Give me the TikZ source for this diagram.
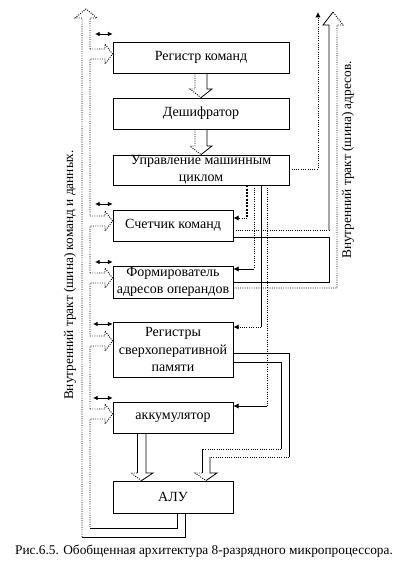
\documentclass[tikz,border=0pt]{standalone}
\usepackage{fontspec}
\setmainfont{Liberation Serif}
\newfontfamily\rfont{Liberation Serif}
\usetikzlibrary{arrows.meta}
\begin{document}
\begin{tikzpicture}[x=0.75pt,y=-0.75pt,
  box/.style={draw, line width=0.6pt, fill=white, inner sep=0pt, font=\rfont\fontsize{10.5}{13}\selectfont, align=center},
  sl/.style={line width=0.6pt},
  dl/.style={line width=0.7pt, densely dotted},
  dsh/.style={line width=0.8pt, dash pattern=on 1.5pt off 1pt},
  ctl/.style={-{Latex[length=4pt,width=4pt]}},
  bia/.style={line width=0.6pt, {Latex[length=3.5pt,width=3.5pt]}-{Latex[length=3.5pt,width=3.5pt]}},
  lbl/.style={font=\rfont\fontsize{10}{12}\selectfont}]
\useasboundingbox (0,0) rectangle (404,565);

% boxes
\node[box, minimum width=132pt, minimum height=23.25pt] (rk) at (201,57.5) {Регистр команд};
\node[box, minimum width=132pt, minimum height=23.25pt] (dsf) at (201,113.5) {Дешифратор};
\node[box, minimum width=132pt, minimum height=22.5pt] (upr) at (201,170) {Управление машинным\\циклом};
\node[box, minimum width=90pt, minimum height=23.25pt] (sch) at (173,225.5) {Счетчик команд};
\node[box, minimum width=90pt, minimum height=24pt] (frm) at (173,282) {Формирователь\\адресов операндов};
\node[box, minimum width=90pt, minimum height=41.25pt] (reg) at (173,349.5) {Регистры\\сверхоперативной\\памяти};
\node[box, minimum width=90pt, minimum height=23.25pt] (acc) at (173,417.5) {аккумулятор};
\node[box, minimum width=90pt, minimum height=24pt] (alu) at (173,497) {АЛУ};

% hollow arrows between top boxes
\draw[dl] (rk.south -| 195,0) -- (195,89) -- (190,89) -- (dsf.north);
\draw[sl] (rk.south -| 207,0) -- (207,89) -- (212,89) -- (dsf.north);
\draw[dl] (dsf.south -| 195,0) -- (195,146) -- (190,146) -- (upr.north);
\draw[sl] (dsf.south -| 207,0) -- (207,146) -- (212,146) -- (upr.north);

% left bus (commands and data)
\coordinate (bt) at (86,9);
\draw[dl] (82,537) -- (82,18) -- (75,18) -- (bt) -- (97,18) -- (90,18) -- (90,49);
\draw[sl] (82,537) -- (185,537) -- (alu.south -| 185,0);
\draw[sl] (90,528) -- (177,528) -- (alu.south -| 177,0);
% branches
\draw[dl] (90,49) -- (105,49) -- (105,44) -- (rk.west |- 0,54) -- (105,64) -- (105,59) -- (90,59) -- (90,216);
\draw[dl] (90,216) -- (105,216) -- (105,211) -- (sch.west |- 0,221) -- (105,231) -- (105,226) -- (90,226) -- (90,273);
\draw[dl] (90,273) -- (105,273) -- (105,268) -- (frm.west |- 0,278) -- (105,288) -- (105,283) -- (90,283) -- (90,336);
\draw[dl] (90,336) -- (105,336) -- (105,331) -- (reg.west |- 0,341) -- (105,351) -- (105,346) -- (90,346) -- (90,409);
\draw[dl] (90,409) -- (105,409) -- (105,404) -- (acc.west |- 0,414) -- (105,424) -- (105,419) -- (90,419) -- (90,528);
% small bidirectional arrows
\draw[bia] (95,34) -- (rk.west |- 0,34);
\draw[bia] (95,204) -- (sch.west |- 0,204);
\draw[bia] (95,262) -- (frm.west |- 0,262);
\draw[bia] (93,324) -- (reg.west |- 0,324);
\draw[bia] (93,398) -- (acc.west |- 0,398);

% address bus
\coordinate (at) at (333,12);
\draw[sl] (sch.east |- 0,237) -- (329,237) -- (329,282) -- (frm.east |- 0,282);
\draw[dl] (sch.east |- 0,230) -- (329,230);
\draw[sl] (329,230) -- (329,25) -- (323,25) -- (at);
\draw[dl] (frm.east |- 0,288) -- (337,288) -- (337,25) -- (343,25) -- (at);

% control lines from cycle control
\coordinate (ct) at (318,12);
\draw[dl, ctl] (upr.east |- 0,169) -- (318,169) -- (ct);
\draw[dsh] (upr.south -| 247,0) -- (247,218);
\draw[dl, ctl] (247,218) -- (sch.east |- 0,218);
\draw[dl] (upr.south -| 254,0) -- (254,269);
\draw[sl, ctl] (254,269) -- (frm.east |- 0,269);
\draw[sl] (upr.south -| 261,0) -- (261,327);
\draw[dl, ctl] (261,327) -- (reg.east |- 0,327);
\draw[dl] (upr.south -| 267,0) -- (267,406);
\draw[sl, ctl] (267,406) -- (acc.east |- 0,406);

% registers -> ALU
\draw[sl] (reg.east |- 0,353) -- (289,353) -- (289,457);
\draw[dl] (289,457) -- (210,457);
\draw[sl] (210,457) -- (210,473) -- (217,473) -- (alu.north -| 206,0);
\draw[sl] (reg.east |- 0,362) -- (281,362) -- (281,449);
\draw[dl] (281,449) -- (202,449);
\draw[sl] (202,449) -- (202,473);
\draw[dl] (202,473) -- (195,473) -- (alu.north -| 206,0);

% accumulator -> ALU
\draw[sl] (acc.south -| 137,0) -- (137,473);
\draw[dl] (137,473) -- (131,473) -- (alu.north -| 141.5,0);
\draw[sl] (acc.south -| 146,0) -- (146,473) -- (153,473) -- (alu.north -| 141.5,0);

% labels
\node[lbl, rotate=90] (lt) at (70,275) {Внутренний тракт (шина) команд и данных.};
\node[lbl, rotate=90] (rt) at (348,160) {Внутренний тракт (шина) адресов.};
\node[lbl] (cap) at (204,551) {Рис.6.5. Обобщенная архитектура 8-разрядного микропроцессора.};
\end{tikzpicture}
\end{document}
